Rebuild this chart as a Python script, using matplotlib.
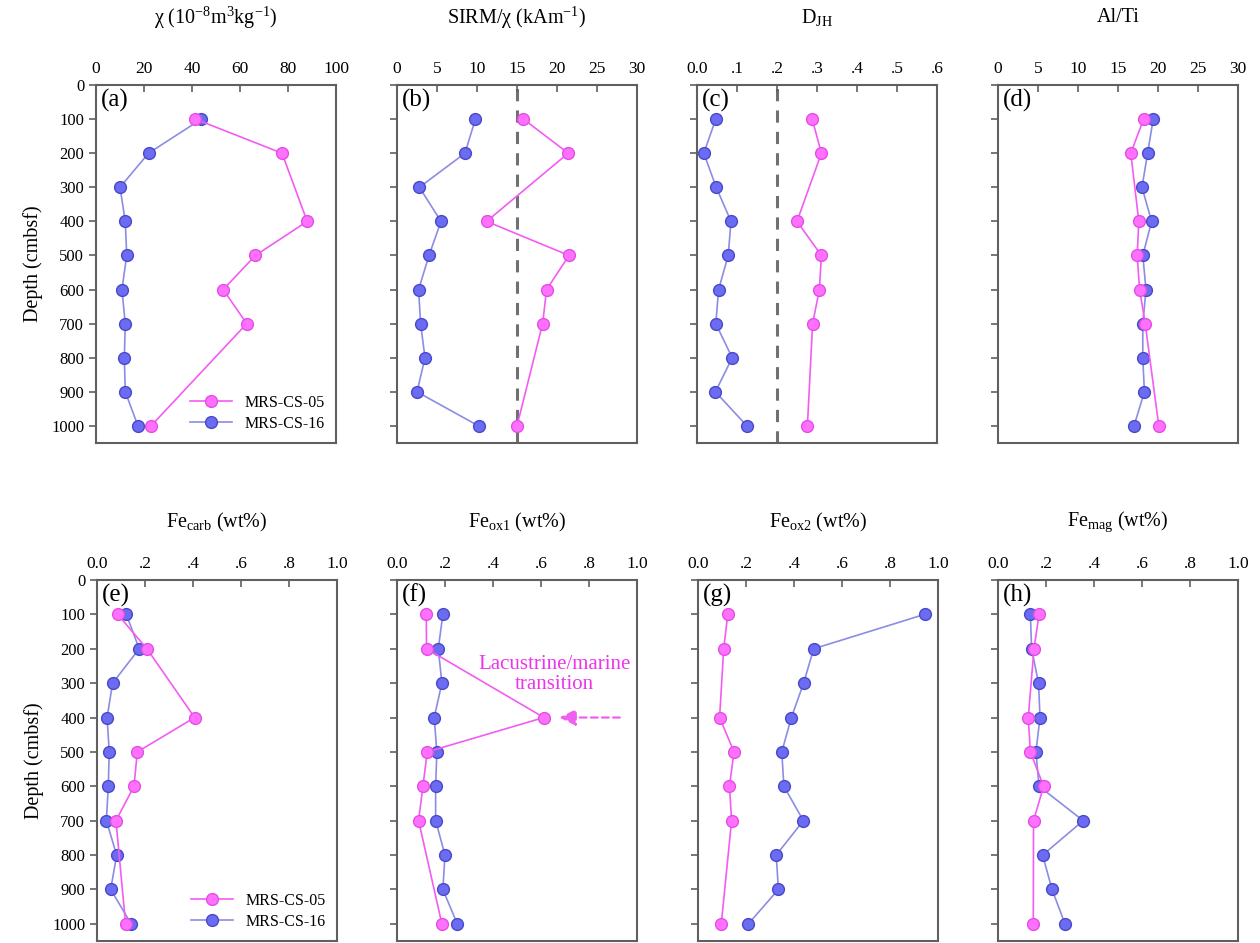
import numpy as np
import matplotlib
matplotlib.use("Agg")
import matplotlib.pyplot as plt

plt.rcParams['font.family'] = ['Liberation Serif', 'DejaVu Serif']
plt.rcParams['mathtext.fontset'] = 'custom'
plt.rcParams['mathtext.rm'] = 'Liberation Serif'
plt.rcParams['mathtext.it'] = 'Liberation Serif:italic'

# depths (cmbsf)
depth_05 = [100, 200, 400, 500, 600, 700, 1000]
depth_16 = [100, 200, 300, 400, 500, 600, 700, 800, 900, 1000]

# (a) magnetic susceptibility
chi_05 = [41.4, 77.5, 88.0, 66.4, 53.0, 62.8, 22.9]
chi_16 = [43.9, 21.9, 10.0, 12.2, 12.8, 10.8, 12.2, 11.8, 12.2, 17.5]
# (b) SIRM/chi
sirm_05 = [15.8, 21.4, 11.2, 21.5, 18.7, 18.2, 15.0]
sirm_16 = [9.8, 8.5, 2.8, 5.5, 4.0, 2.7, 2.95, 3.5, 2.5, 10.2]
# (c) DJH
djh_05 = [0.288, 0.311, 0.25, 0.311, 0.306, 0.289, 0.276]
djh_16 = [0.047, 0.017, 0.048, 0.085, 0.078, 0.054, 0.047, 0.088, 0.046, 0.125]
# (d) Al/Ti
alti_05 = [18.2, 16.6, 17.6, 17.4, 17.7, 18.4, 20.1]
alti_16 = [19.4, 18.7, 18.0, 19.2, 18.1, 18.5, 18.1, 18.1, 18.3, 17.0]
# (e) Fe carb
fecarb_05 = [0.086, 0.208, 0.407, 0.168, 0.154, 0.079, 0.119]
fecarb_16 = [0.122, 0.176, 0.065, 0.042, 0.051, 0.047, 0.039, 0.082, 0.057, 0.142]
# (f) Fe ox1
feox1_05 = [0.122, 0.123, 0.612, 0.126, 0.108, 0.09, 0.187]
feox1_16 = [0.191, 0.172, 0.187, 0.155, 0.166, 0.161, 0.161, 0.2, 0.191, 0.251]
# (g) Fe ox2
feox2_05 = [0.124, 0.107, 0.09, 0.15, 0.131, 0.14, 0.097]
feox2_16 = [0.944, 0.482, 0.44, 0.389, 0.349, 0.358, 0.439, 0.326, 0.335, 0.21]
# (h) Fe mag
femag_05 = [0.171, 0.15, 0.126, 0.135, 0.19, 0.148, 0.147]
femag_16 = [0.135, 0.14, 0.169, 0.175, 0.158, 0.171, 0.355, 0.186, 0.225, 0.279]

titles = [r"χ (10$^{-8}$m$^{3}$kg$^{-1}$)", r"SIRM/χ (kAm$^{-1}$)", r"D$_{\rm JH}$", "Al/Ti",
          r"Fe$_{\rm carb}$ (wt%)", r"Fe$_{\rm ox1}$ (wt%)", r"Fe$_{\rm ox2}$ (wt%)", r"Fe$_{\rm mag}$ (wt%)"]
panel_labels = ["(a)", "(b)", "(c)", "(d)", "(e)", "(f)", "(g)", "(h)"]
series_05 = [chi_05, sirm_05, djh_05, alti_05, fecarb_05, feox1_05, feox2_05, femag_05]
series_16 = [chi_16, sirm_16, djh_16, alti_16, fecarb_16, feox1_16, feox2_16, femag_16]

fe_ticks = [0, 0.2, 0.4, 0.6, 0.8, 1.0]
fe_labels = ["0.0", ".2", ".4", ".6", ".8", "1.0"]
xticks = [
    ([0, 20, 40, 60, 80, 100], ["0", "20", "40", "60", "80", "100"]),
    ([0, 5, 10, 15, 20, 25, 30], ["0", "5", "10", "15", "20", "25", "30"]),
    ([0, 0.1, 0.2, 0.3, 0.4, 0.5, 0.6], ["0.0", ".1", ".2", ".3", ".4", ".5", ".6"]),
    ([0, 5, 10, 15, 20, 25, 30], ["0", "5", "10", "15", "20", "25", "30"]),
    (fe_ticks, fe_labels), (fe_ticks, fe_labels), (fe_ticks, fe_labels), (fe_ticks, fe_labels),
]
dashed = [None, 15, 0.2, None, None, None, None, None]

pink_line = "#f35cf3"
pink_face = "#ff70ff"
pink_edge = "#e24ee2"
blue_line = "#8c8ce4"
blue_face = "#6c6cf2"
blue_edge = "#4848c8"
spine_col = "#606060"

fig = plt.figure(figsize=(12.6, 9.43), dpi=100)
W, H = 1260, 943
lefts_top = [96, 397, 697, 998]
lefts_bot = [97, 397, 698, 998]
width = 240

axes = []
for i in range(8):
    if i < 4:
        left = lefts_top[i]
        top, bottom = 85, 443
    else:
        left = lefts_bot[i - 4]
        top, bottom = 580, 941
    ax = fig.add_axes([left / W, 1 - bottom / H, width / W, (bottom - top) / H])
    axes.append(ax)

    if dashed[i] is not None:
        ax.axvline(dashed[i], color="#707070", lw=2.2, ls=(0, (4, 3)), zorder=1)

    ax.plot(series_16[i], depth_16, color=blue_line, lw=1.2, marker="o", ms=8.5,
            mfc=blue_face, mec=blue_edge, mew=1.0, label="MRS-CS-16", zorder=3)
    ax.plot(series_05[i], depth_05, color=pink_line, lw=1.2, marker="o", ms=8.5,
            mfc=pink_face, mec=pink_edge, mew=1.0, label="MRS-CS-05", zorder=4)

    ticks, labels = xticks[i]
    ax.set_xlim(ticks[0], ticks[-1])
    ax.set_xticks(ticks)
    ax.set_xticklabels(labels)
    ax.set_ylim(1050, 0)
    ax.set_yticks(np.arange(0, 1001, 100))
    ax.xaxis.tick_top()
    ax.tick_params(axis="x", direction="in", length=5, width=1.2, color=spine_col,
                   labelsize=12.5, pad=6)
    ax.tick_params(axis="y", direction="out", length=5, width=1.2, color=spine_col,
                   labelsize=12)
    if i % 4 != 0:
        ax.set_yticklabels([])
    else:
        ax.set_ylabel("Depth (cmbsf)", fontsize=14.5, labelpad=6)
    for s in ax.spines.values():
        s.set_color(spine_col)
        s.set_linewidth(1.5)

    ax.text(0.02, 0.99, panel_labels[i], transform=ax.transAxes, fontsize=18,
            ha="left", va="top")

    cx = (left + width / 2) / W
    ty = 18 if i < 4 else 522
    fig.text(cx, 1 - ty / H, titles[i], ha="center", va="center", fontsize=14.5)

    if i in (0, 4):
        h, l = ax.get_legend_handles_labels()
        ax.legend(h[::-1], l[::-1], loc="lower right", frameon=False, fontsize=11.5,
                  handlelength=2.6, borderaxespad=0.3, labelspacing=0.3)

# annotation on Fe ox1 panel
axf = axes[5]
axf.text(0.655, 275, "Lacustrine/marine\ntransition", color="#ee33ee", fontsize=15,
         ha="center", va="center", linespacing=1.1)
axf.annotate("", xy=(0.665, 400), xytext=(0.94, 400),
             arrowprops=dict(arrowstyle="-|>,head_length=1.0,head_width=0.5",
                             color="#f060f0", lw=1.6, ls=(0, (3, 2))))

fig.savefig("out.png", dpi=100)
